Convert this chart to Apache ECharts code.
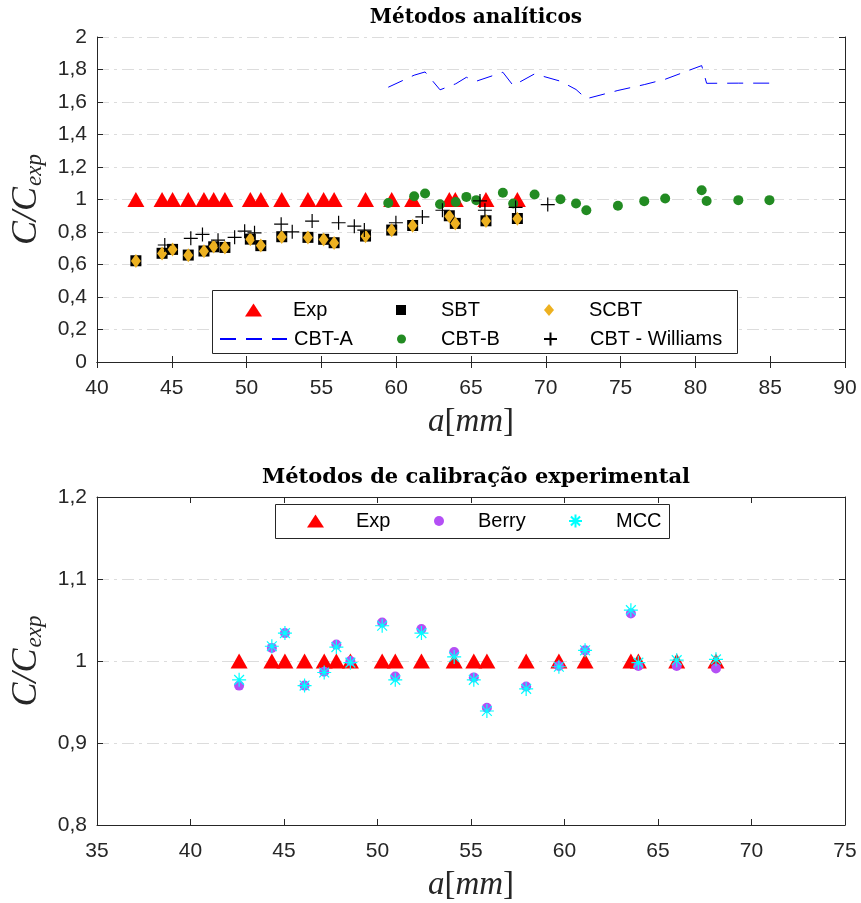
<!DOCTYPE html>
<html>
<head>
<meta charset="utf-8">
<script src="https://cdn.jsdelivr.net/npm/echarts@6/dist/echarts.min.js"></script>
<style>
  html, body { margin: 0; padding: 0; background: #fff; }
  #chart { width: 861px; height: 903px; }
</style>
</head>
<body>
<div id="chart"></div>
<script>
// ---- data ----
// crack length a [mm] of the experimental points (shared by Exp, SBT, SCBT, Berry, MCC)
var aExp = [42.6, 44.35, 45.05, 46.1, 47.15, 47.8, 48.55, 50.25, 50.95, 52.35,
            54.1, 55.15, 55.85, 57.95, 59.7, 61.1, 63.55, 63.95, 66.0, 68.1];
var exp = [1, 1, 1, 1, 1, 1, 1, 1, 1, 1, 1, 1, 1, 1, 1, 1, 1, 1, 1, 1];

// analytical methods
var sbt  = [0.623, 0.669, 0.693, 0.658, 0.683, 0.709, 0.705, 0.756, 0.716, 0.771,
            0.767, 0.755, 0.734, 0.775, 0.812, 0.840, 0.900, 0.853, 0.869, 0.883];
var scbt = [0.622, 0.668, 0.692, 0.657, 0.682, 0.711, 0.704, 0.755, 0.717, 0.770,
            0.766, 0.754, 0.733, 0.774, 0.811, 0.839, 0.897, 0.852, 0.868, 0.882];

var aCbt = [59.47, 61.2, 61.93, 62.93, 63.98, 64.69, 65.35, 67.13, 67.82, 69.25,
            70.98, 72.02, 72.71, 74.82, 76.58, 77.98, 80.42, 80.75, 82.87, 84.95];
var cbtA = [1.691, 1.765, 1.785, 1.675, 1.712, 1.752, 1.728, 1.783, 1.701, 1.773,
            1.728, 1.677, 1.620, 1.671, 1.707, 1.740, 1.824, 1.715, 1.716, 1.716];
var cbtB = [0.979, 1.020, 1.037, 0.971, 0.985, 1.016, 0.996, 1.041, 0.975, 1.031,
            1.002, 0.975, 0.934, 0.961, 0.990, 1.006, 1.057, 0.991, 0.996, 0.996];

var aWil = [44.53, 46.27, 47.05, 48.09, 49.2, 49.87, 50.53, 52.31, 53.05, 54.38,
            56.15, 57.2, 57.87, 59.98, 61.75, 63.09, 65.6, 65.93, 67.98, 70.13];
var cbtWil = [0.720, 0.761, 0.785, 0.750, 0.767, 0.805, 0.795, 0.848, 0.801, 0.867,
              0.857, 0.836, 0.812, 0.857, 0.893, 0.934, 0.991, 0.934, 0.951, 0.969];

// experimental calibration methods
var berry = [0.970, 1.016, 1.034, 0.970, 0.987, 1.020, 1.000, 1.047, 0.981, 1.039,
             1.011, 0.980, 0.943, 0.969, 0.994, 1.013, 1.058, 0.994, 0.994, 0.991];
var mcc   = [0.977, 1.018, 1.034, 0.970, 0.986, 1.017, 0.998, 1.043, 0.977, 1.034,
             1.005, 0.977, 0.939, 0.966, 0.993, 1.013, 1.062, 0.998, 1.001, 1.002];

var xTicksTop = [40, 90, 5];
var yTicksTop = [0, 2, 0.2];
var xTicksBot = [35, 75, 5];
var yTicksBot = [0.8, 1.2, 0.1];

// ---- helpers ----
function pairs(xs, ys) {
	var out = [];
	for (var i = 0; i < xs.length; i++) out.push([xs[i], ys[i]]);
	return out;
}
function commaFmt(v) {
	var s = (Math.round(v * 10) / 10).toString();
	return s.replace('.', ',');
}

var INK = '#262626';
var SANS = 'Liberation Sans';
var SERIF = 'Liberation Serif';
var PLUS = 'path://M0,5L10,5M5,0L5,10';
var STAR = 'path://M0,5L10,5M5,0L5,10M1.5,1.5L8.5,8.5M1.5,8.5L8.5,1.5';

var gridLine = { show: true, lineStyle: { color: '#dcdcdc', width: 1, type: [12, 5, 3, 5] } };

function mainX(idx, r) {
	return {
		type: 'value', gridIndex: idx, min: r[0], max: r[1], interval: r[2],
		position: 'bottom',
		axisLine: { show: true, lineStyle: { color: INK, width: 1 } },
		axisTick: { show: true, inside: true, length: 6, lineStyle: { color: INK } },
		axisLabel: { color: INK, fontSize: 21, fontFamily: SANS, margin: 16 },
		splitLine: { show: false },
		name: '{i|a}{r|[}{i|mm}{r|]}', nameLocation: 'middle', nameGap: 44,
		nameTextStyle: {
			rich: {
				i: { fontFamily: SERIF, fontStyle: 'italic', fontSize: 33, color: INK },
				r: { fontFamily: SERIF, fontSize: 33, color: INK }
			}
		}
	};
}
function topX(idx, r) {
	return {
		type: 'value', gridIndex: idx, min: r[0], max: r[1], interval: r[2],
		position: 'top',
		axisLine: { show: true, lineStyle: { color: INK, width: 1 } },
		axisTick: { show: true, inside: true, length: 6, lineStyle: { color: INK } },
		axisLabel: { show: false }, splitLine: { show: false }
	};
}
function mainY(idx, r) {
	return {
		type: 'value', gridIndex: idx, min: r[0], max: r[1], interval: r[2],
		position: 'left',
		axisLine: { show: true, lineStyle: { color: INK, width: 1 } },
		axisTick: { show: true, inside: true, length: 6, lineStyle: { color: INK } },
		axisLabel: { color: INK, fontSize: 21, fontFamily: SANS, margin: 10, formatter: commaFmt },
		splitLine: gridLine,
		name: '{i|C/C}{s|exp}', nameLocation: 'middle', nameGap: 48, nameRotate: 90,
		nameTextStyle: {
			rich: {
				i: { fontFamily: SERIF, fontStyle: 'italic', fontSize: 36, color: INK,
				     lineHeight: 38, verticalAlign: 'top' },
				s: { fontFamily: SERIF, fontStyle: 'italic', fontSize: 23, color: INK,
				     lineHeight: 24, verticalAlign: 'bottom', padding: [19, 0, 0, 1] }
			}
		}
	};
}
function rightY(idx, r) {
	return {
		type: 'value', gridIndex: idx, min: r[0], max: r[1], interval: r[2],
		position: 'right',
		axisLine: { show: true, lineStyle: { color: INK, width: 1 } },
		axisTick: { show: true, inside: true, length: 6, lineStyle: { color: INK } },
		axisLabel: { show: false }, splitLine: { show: false }
	};
}
// one legend box per entry so the columns line up like the original
function oneLegend(name, left, top, w, h, gap) {
	return {
		data: [name], left: left, top: top, padding: 0, z: 20,
		itemWidth: w, itemHeight: h, selectedMode: false,
		textStyle: { fontSize: 20, fontFamily: SANS, color: '#000', padding: [0, 0, 0, gap] }
	};
}

var lineLegend = oneLegend('CBT-A', 219, 329, 67, 14, 2);
lineLegend.itemStyle = { color: 'rgba(0,0,0,0)', borderColor: 'rgba(0,0,0,0)', borderWidth: 0 };

var chart = echarts.init(document.getElementById('chart'));

chart.setOption({
	backgroundColor: '#fff',
	animation: false,
	title: [{
		text: 'Métodos analíticos', left: 471, top: 3, textAlign: 'center',
		textStyle: { fontFamily: 'DejaVu Serif', fontWeight: 'bold', fontSize: 20, color: '#000' }
	}, {
		text: 'Métodos de calibração experimental', left: 471, top: 462, textAlign: 'center',
		textStyle: { fontFamily: 'DejaVu Serif', fontWeight: 'bold', fontSize: 21, color: '#000' }
	}],
	grid: [
		{ left: 97, top: 37, width: 748, height: 325, outerBoundsMode: 'none', containLabel: false },
		{ left: 97, top: 497, width: 748, height: 328, outerBoundsMode: 'none', containLabel: false }
	],
	xAxis: [mainX(0, xTicksTop), topX(0, xTicksTop), mainX(1, xTicksBot), topX(1, xTicksBot)],
	yAxis: [mainY(0, yTicksTop), rightY(0, yTicksTop), mainY(1, yTicksBot), rightY(1, yTicksBot)],
	graphic: [
		{ type: 'rect', z: 10, shape: { x: 212.5, y: 290.5, width: 525, height: 63 },
		  style: { fill: '#fff', stroke: INK, lineWidth: 1 } },
		{ type: 'rect', z: 10, shape: { x: 275.5, y: 504.5, width: 394, height: 34 },
		  style: { fill: '#fff', stroke: INK, lineWidth: 1 } }
	],
	legend: [
		oneLegend('Exp', 245, 300, 17, 13, 26),
		lineLegend,
		oneLegend('SBT', 396, 300, 10, 10, 30),
		oneLegend('CBT-B', 397, 329, 9, 9, 30),
		oneLegend('SCBT', 544, 300, 10, 12, 30),
		oneLegend('CBT - Williams', 543, 329, 13, 13, 28),
		oneLegend('Exp ', 307, 511, 17, 13, 27),
		oneLegend('Berry', 434, 511, 10, 10, 29),
		oneLegend('MCC', 568, 511, 13, 13, 29)
	],
	series: [
		{ name: 'Exp', type: 'scatter', xAxisIndex: 0, yAxisIndex: 0, data: pairs(aExp, exp),
		  symbol: 'triangle', symbolSize: [17, 15], itemStyle: { color: '#ff0000', opacity: 1 } },
		{ name: 'SBT', type: 'scatter', xAxisIndex: 0, yAxisIndex: 0, data: pairs(aExp, sbt),
		  symbol: 'rect', symbolSize: 11, itemStyle: { color: '#000000', opacity: 1 } },
		{ name: 'SCBT', type: 'scatter', xAxisIndex: 0, yAxisIndex: 0, data: pairs(aExp, scbt),
		  symbol: 'diamond', symbolSize: [10, 14], itemStyle: { color: '#edb120', opacity: 1 } },
		{ name: 'CBT-A', type: 'line', xAxisIndex: 0, yAxisIndex: 0, data: pairs(aCbt, cbtA),
		  symbol: 'none', lineStyle: { color: '#0000ff', width: 1, type: [16, 10] },
		  itemStyle: { color: '#0000ff' } },
		{ name: 'CBT-B', type: 'scatter', xAxisIndex: 0, yAxisIndex: 0, data: pairs(aCbt, cbtB),
		  symbol: 'circle', symbolSize: 10, itemStyle: { color: '#228b22', opacity: 1 } },
		{ name: 'CBT - Williams', type: 'scatter', xAxisIndex: 0, yAxisIndex: 0, data: pairs(aWil, cbtWil),
		  symbol: PLUS, symbolSize: 14,
		  itemStyle: { color: 'rgba(0,0,0,0)', borderColor: '#000', borderWidth: 1.2, opacity: 1 } },

		{ name: 'Exp ', type: 'scatter', xAxisIndex: 2, yAxisIndex: 2, data: pairs(aExp, exp),
		  symbol: 'triangle', symbolSize: [17, 15], itemStyle: { color: '#ff0000', opacity: 1 } },
		{ name: 'Berry', type: 'scatter', xAxisIndex: 2, yAxisIndex: 2, data: pairs(aExp, berry),
		  symbol: 'circle', symbolSize: 10, itemStyle: { color: '#b44ff5', opacity: 1 } },
		{ name: 'MCC', type: 'scatter', xAxisIndex: 2, yAxisIndex: 2, data: pairs(aExp, mcc),
		  symbol: STAR, symbolSize: 14,
		  itemStyle: { color: 'rgba(0,0,0,0)', borderColor: '#00ffff', borderWidth: 1.2, opacity: 1 } }
	]
});
</script>
</body>
</html>
